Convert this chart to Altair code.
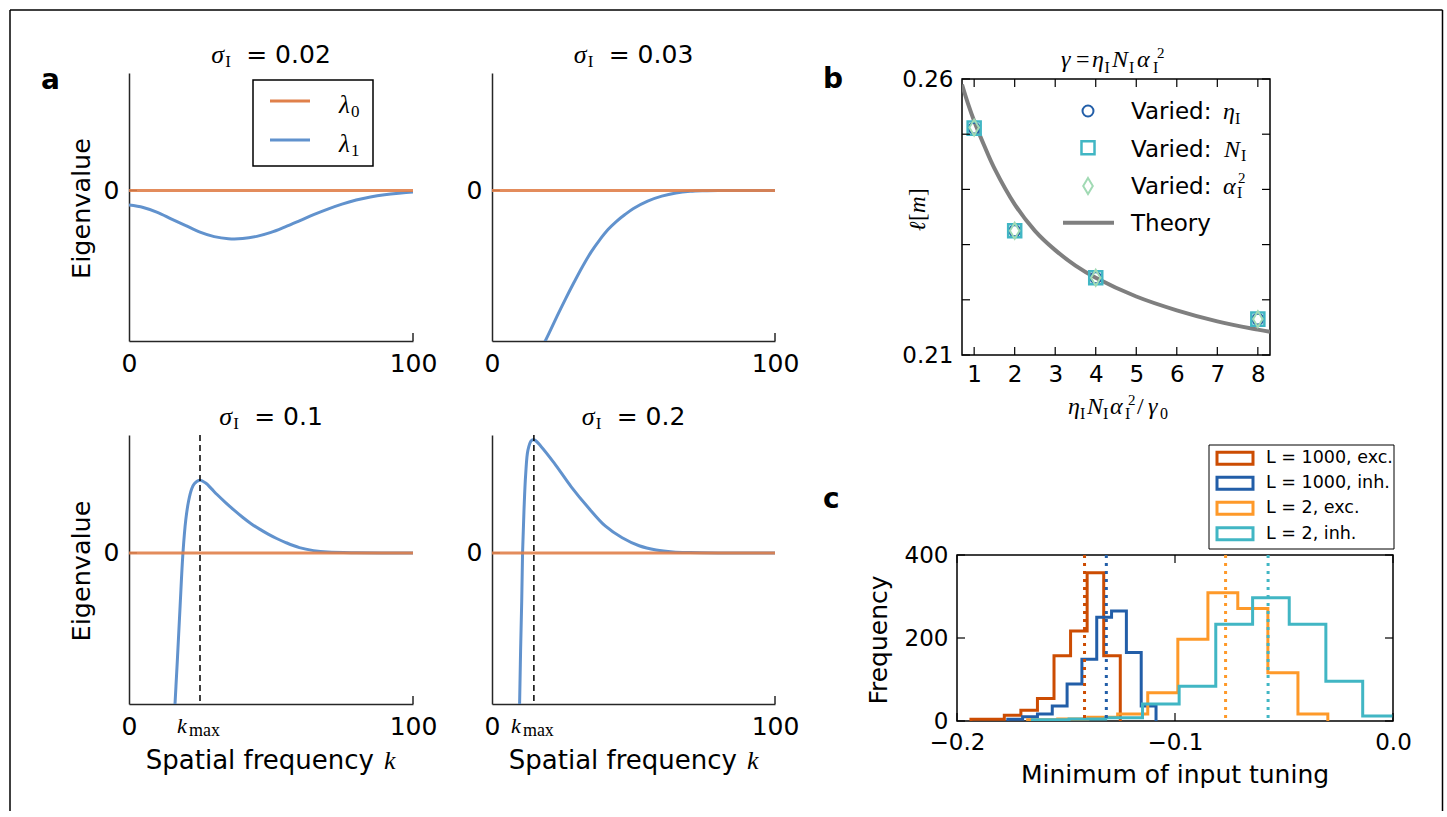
import altair as alt
import pandas as pd

SANS = "DejaVu Sans"
SERIF = "Liberation Serif"
ORANGE = "#e0804a"
BLUE = "#6192cd"
CURVE = "catmull-rom"

# ---------------- panel a data ----------------
k_s002 = [0, 5, 10, 15, 20, 25, 30, 35, 40, 45, 50, 55, 60, 65, 70, 75, 80, 85, 90, 95, 100]
lam1_s002 = [-0.097, -0.113, -0.145, -0.190, -0.234, -0.277, -0.307, -0.321, -0.320, -0.305,
             -0.279, -0.242, -0.202, -0.161, -0.124, -0.091, -0.064, -0.043, -0.028, -0.018, -0.011]
k_s003 = [14, 17, 20, 23, 26, 29, 32, 35, 38, 41, 44, 47, 50, 55, 60, 65, 70, 75, 80, 90, 100]
lam1_s003 = [-1.20, -1.07, -0.955, -0.835, -0.72, -0.61, -0.505, -0.41, -0.33, -0.26, -0.205,
             -0.16, -0.12, -0.071, -0.038, -0.017, -0.006, -0.002, -0.0005, 0.0, 0.0]
k_s01 = [15, 16, 17, 18, 19, 20, 21, 22, 23, 25, 27, 29, 31, 34, 37, 40, 43, 46, 49, 52, 55, 60, 65, 70, 80, 100]
lam1_s01 = [-1.45, -1.07, -0.72, -0.35, 0.0, 0.22, 0.345, 0.42, 0.458, 0.481, 0.462, 0.425, 0.386,
            0.333, 0.283, 0.236, 0.193, 0.157, 0.124, 0.095, 0.070, 0.035, 0.015, 0.005, 0.0005, 0.0]
k_s02 = [9, 9.75, 10.1, 10.5, 10.8, 11.3, 11.9, 12.7, 13.9, 15, 17.4, 22, 28, 34, 40, 46, 52, 58, 64, 70, 80, 100]
lam1_s02 = [-1.5, -1.0, -0.65, -0.32, 0.0, 0.28, 0.52, 0.68, 0.743, 0.747, 0.703, 0.594, 0.437,
            0.300, 0.178, 0.100, 0.047, 0.019, 0.006, 0.002, 0.0, 0.0]
lam0_k = [0, 100]
lam0_v = [0, 0]
kmax_s01 = [25.0]
kmax_s02 = [14.8]
a_xticks = [0, 100]
a_yticks = [0]

# ---------------- panel b data ----------------
b_x = [1, 2, 4, 8]
b_eta = [0.2511, 0.2325, 0.2240, 0.2165]
b_N = [0.2511, 0.2325, 0.2240, 0.2165]
b_alpha = [0.2512, 0.2325, 0.2240, 0.2165]
theory_x = [0.70, 0.85, 1.0, 1.25, 1.5, 2.0, 2.5, 3.0, 3.5, 4.0, 5.0, 6.0, 7.0, 8.0, 8.3]
theory_y = [0.2590, 0.2555, 0.2524, 0.2479, 0.2438, 0.2373, 0.2325, 0.2290, 0.2262, 0.2240,
            0.2206, 0.2181, 0.2161, 0.2146, 0.2142]
b_xticks = [1, 2, 3, 4, 5, 6, 7, 8]
b_ylabels = [0.21, 0.26]
b_yticks = [0.21, 0.22, 0.23, 0.24, 0.25, 0.26]

# ---------------- panel c data ----------------
c_series = ["L = 1000, exc.", "L = 1000, inh.", "L = 2, exc.", "L = 2, inh."]
c_colors = ["#cc4c02", "#225ea8", "#fe9929", "#41b6c4"]
c_edges_exc1000 = [-0.1936, -0.1860, -0.1783, -0.1707, -0.1631, -0.1555, -0.1479, -0.1403, -0.1327, -0.1251]
c_counts_exc1000 = [4, 4, 14, 26, 54, 157, 217, 357, 157]
c_edges_inh1000 = [-0.1767, -0.1699, -0.1631, -0.1563, -0.1495, -0.1427, -0.1359, -0.1291, -0.1223, -0.1155, -0.1087]
c_counts_inh1000 = [4, 10, 17, 36, 89, 149, 250, 265, 165, 36]
c_edges_exc2 = [-0.1676, -0.1538, -0.1400, -0.1263, -0.1125, -0.0987, -0.0849, -0.0712, -0.0574, -0.0436, -0.0299]
c_counts_exc2 = [3, 5, 9, 17, 68, 197, 309, 271, 116, 17]
c_edges_inh2 = [-0.1654, -0.1486, -0.1318, -0.1149, -0.0981, -0.0813, -0.0644, -0.0476, -0.0308, -0.0139, 0.0029]
c_counts_inh2 = [3, 5, 8, 41, 84, 233, 297, 233, 96, 12]
c_means = [-0.1415, -0.1315, -0.0768, -0.0573]
c_xticks = [-0.2, -0.1, 0.0]
c_yticks = [0, 200, 400]

DUMMY = pd.DataFrame({"d": [0]})


def T(s, x, y, size=25, font=SANS, style="normal", weight="normal", align="left",
      baseline="alphabetic", angle=0):
    kw = dict(text=s, font=font, fontSize=size, fontStyle=style, fontWeight=weight,
              align=align, baseline=baseline, color="black")
    if angle:
        kw["angle"] = angle
    return alt.Chart(DUMMY).mark_text(**kw).encode(x=alt.value(x), y=alt.value(y))


def R(x, y, x2=None, y2=None, color="black", width=1.5, dash=None):
    kw = dict(color=color, strokeWidth=width)
    if dash:
        kw["strokeDash"] = dash
    enc = dict(x=alt.value(x), y=alt.value(y))
    if x2 is not None:
        enc["x2"] = alt.value(x2)
    if y2 is not None:
        enc["y2"] = alt.value(y2)
    return alt.Chart(DUMMY).mark_rule(**kw).encode(**enc)


def spacer(w, h):
    return alt.Chart(DUMMY).mark_point(opacity=0).encode(
        x=alt.X("d:Q", axis=None), y=alt.Y("d:Q", axis=None)).properties(width=w, height=h)


def ax(values, fmt, size, pad, domain=True):
    kw = dict(values=values, format=fmt, title=None, grid=False, ticks=False, labelFont=SANS,
              labelFontSize=size, labelColor="black", labelPadding=pad, labelFlush=False,
              labelOverlap=False, domain=domain)
    if domain:
        kw["domainColor"] = "#262626"
        kw["domainWidth"] = 1.5
    return alt.Axis(**kw)


# ---------------- panel a ----------------
def a_panel(k, lam1, W, H, sval, kmax=None, ylabel_y=None, xtitle=False, first=False):
    xs = alt.Scale(domain=[0, 100], nice=False, zero=False)
    ys = alt.Scale(domain=[-1.0, 0.78], nice=False, zero=False)
    xax = ax(a_xticks, "d", 25, 10)
    yax = ax(a_yticks, "d", 25, 10)

    def X():
        return alt.X("k:Q", scale=xs, axis=xax)

    def Y():
        return alt.Y("v:Q", scale=ys, axis=yax)

    L = []
    L.append(alt.Chart(pd.DataFrame({"v": a_yticks})).mark_rule(color="black", strokeWidth=1.2)
             .encode(y=Y(), x=alt.value(0), x2=alt.value(8)))
    L.append(alt.Chart(pd.DataFrame({"k": k, "v": lam1})).mark_line(
        color=BLUE, strokeWidth=3, clip=True, interpolate=CURVE).encode(x=X(), y=Y()))
    L.append(alt.Chart(pd.DataFrame({"k": lam0_k, "v": lam0_v})).mark_line(
        color=ORANGE, strokeWidth=3, opacity=0.9).encode(x=X(), y=Y()))
    L.append(alt.Chart(pd.DataFrame({"k": [a_xticks[-1]]})).mark_rule(color="#262626", strokeWidth=1.5)
             .encode(x=X(), y=alt.value(H), y2=alt.value(H - 8)))
    if kmax is not None:
        kd = pd.DataFrame({"k": kmax})
        L.append(alt.Chart(kd).mark_rule(color="black", strokeWidth=1.5, strokeDash=[6, 4])
                 .encode(x=X(), y=alt.value(0), y2=alt.value(H)))
        L.append(alt.Chart(kd).mark_text(text="k", font=SERIF, fontStyle="italic", fontSize=22,
                                         align="left", baseline="alphabetic", dx=-23, color="black")
                 .encode(x=X(), y=alt.value(H + 29)))
        L.append(alt.Chart(kd).mark_text(text="max", font=SERIF, fontSize=18,
                                         align="left", baseline="alphabetic", dx=-11, color="black")
                 .encode(x=X(), y=alt.value(H + 32)))
    # title  sigma_I = value
    wv = (0.838 + 0.318 + sum(0.318 if ch == "." else 0.636 for ch in sval)) * 25
    x0 = W / 2 - (35 + wv) / 2
    L += [T("σ", x0, -10, 26, SERIF, "italic"), T("I", x0 + 14, -6, 17, SERIF),
          T("= " + sval, x0 + 35, -10, 25, SANS)]
    if ylabel_y is not None:
        L.append(T("Eigenvalue", -39, ylabel_y, 25.5, SANS, align="center", angle=270))
    if xtitle:
        L.append(T("Spatial frequency", 245, H + 65, 26, SANS, align="right"))
        L.append(T("k", 255, H + 65, 26, SERIF, "italic"))
    if first:
        L.append(T("a", -88, 16, 28, SANS, weight="bold"))
        L.append(alt.Chart(DUMMY).mark_rect(fill="white", stroke="black", strokeWidth=1.5).encode(
            x=alt.value(124), x2=alt.value(244), y=alt.value(7), y2=alt.value(93)))
        L.append(R(141, 28, x2=181, color=ORANGE, width=3))
        L.append(R(141, 67, x2=181, color=BLUE, width=3))
        L += [T("λ", 210, 40, 25, SERIF, "italic"), T("0", 222, 43.5, 17, SERIF),
              T("λ", 210, 79, 25, SERIF, "italic"), T("1", 222, 82.5, 17, SERIF)]
        # figure frame
        L.append(R(-119, -63, x2=1313.5, width=1.5))
        L.append(R(-119, -63, y2=738, width=1.5))
        L.append(R(1313.5, -63, y2=738, width=1.5))
    return alt.layer(*L).properties(width=W, height=H)


a1 = a_panel(k_s002, lam1_s002, 284, 268, "0.02", ylabel_y=135.5, first=True)
a2 = a_panel(k_s003, lam1_s003, 283, 268, "0.03")
a3 = a_panel(k_s01, lam1_s01, 284, 269, "0.1", kmax=kmax_s01, ylabel_y=136, xtitle=True)
a4 = a_panel(k_s02, lam1_s02, 283, 269, "0.2", kmax=kmax_s02, xtitle=True)

# ---------------- panel b ----------------
BW, BH = 308, 276
bxs = alt.Scale(domain=[0.7, 8.3], nice=False, zero=False)
bys = alt.Scale(domain=[0.21, 0.26], nice=False, zero=False)
bxax = ax(b_xticks, "d", 23, 8, domain=False)
byax = ax(b_ylabels, ".2f", 23, 9, domain=False)


def BX():
    return alt.X("x:Q", scale=bxs, axis=bxax)


def BY():
    return alt.Y("y:Q", scale=bys, axis=byax)


DIAMOND = "M0,-1L0.6,0L0,1L-0.6,0Z"
bL = []
bL.append(alt.Chart(pd.DataFrame({"x": theory_x, "y": theory_y})).mark_line(
    color="#7f7f7f", strokeWidth=4, interpolate=CURVE, clip=True).encode(x=BX(), y=BY()))
bL.append(alt.Chart(pd.DataFrame({"x": b_x, "y": b_eta})).mark_point(
    shape="circle", filled=False, color="#225ea8", strokeWidth=2, size=120, opacity=1).encode(x=BX(), y=BY()))
bL.append(alt.Chart(pd.DataFrame({"x": b_x, "y": b_N})).mark_point(
    shape="square", filled=False, color="#41b6c4", strokeWidth=2.5, size=170, opacity=1).encode(x=BX(), y=BY()))
bL.append(alt.Chart(pd.DataFrame({"x": b_x, "y": b_alpha})).mark_point(
    shape=DIAMOND, filled=False, color="#a1dab4", strokeWidth=2, size=256, opacity=1).encode(x=BX(), y=BY()))
bxt = pd.DataFrame({"x": b_xticks})
byt = pd.DataFrame({"y": b_yticks})
bL.append(alt.Chart(bxt).mark_rule(color="black", strokeWidth=1.2).encode(x=BX(), y=alt.value(BH), y2=alt.value(BH - 8)))
bL.append(alt.Chart(bxt).mark_rule(color="black", strokeWidth=1.2).encode(x=BX(), y=alt.value(0), y2=alt.value(8)))
bL.append(alt.Chart(byt).mark_rule(color="black", strokeWidth=1.2).encode(y=BY(), x=alt.value(0), x2=alt.value(8)))
bL.append(alt.Chart(byt).mark_rule(color="black", strokeWidth=1.2).encode(y=BY(), x=alt.value(BW - 8), x2=alt.value(BW)))
# panel letter & title
bL.append(T("b", -139, 9, 28, SANS, weight="bold"))
bL += [T("γ", 99, -12, 24, SERIF, "italic"), T("=", 114, -12, 24, SERIF),
       T("η", 130, -12, 24, SERIF, "italic"), T("I", 142.5, -6.5, 16, SERIF),
       T("N", 150, -12, 24, SERIF, "italic"), T("I", 167, -6.5, 16, SERIF),
       T("α", 175, -12, 24, SERIF, "italic"), T("I", 191, -6.5, 16, SERIF),
       T("2", 195, -21, 15, SERIF)]
# y title  l[m]
bL += [T("ℓ", -37, 152, 23, SERIF, "italic", angle=270), T("[", -37, 142, 23, SERIF, angle=270),
       T("m", -37, 134, 23, SERIF, "italic", angle=270), T("]", -37, 117, 23, SERIF, angle=270)]
# x title
xb = BH + 59
bL += [T("η", 106, xb, 24, SERIF, "italic"), T("I", 118, xb + 4.5, 16, SERIF),
       T("N", 125, xb, 24, SERIF, "italic"), T("I", 141, xb + 4.5, 16, SERIF),
       T("α", 148, xb, 24, SERIF, "italic"), T("I", 163, xb + 4.5, 16, SERIF),
       T("2", 166, xb - 9, 15, SERIF), T("/", 175, xb, 24, SERIF),
       T("γ", 186, xb, 24, SERIF, "italic"), T("0", 198, xb + 4.5, 16, SERIF)]
# legend
bL.append(alt.Chart(DUMMY).mark_point(shape="circle", filled=False, color="#225ea8", strokeWidth=2, size=120, opacity=1)
          .encode(x=alt.value(126), y=alt.value(32)))
bL.append(alt.Chart(DUMMY).mark_point(shape="square", filled=False, color="#41b6c4", strokeWidth=2.5, size=170, opacity=1)
          .encode(x=alt.value(126), y=alt.value(68.7)))
bL.append(alt.Chart(DUMMY).mark_point(shape=DIAMOND, filled=False, color="#a1dab4", strokeWidth=2, size=256, opacity=1)
          .encode(x=alt.value(126), y=alt.value(107)))
bL.append(R(101, 143.7, x2=152, color="#7f7f7f", width=4))
bL += [T("Varied:", 169, 40.3, 23), T("η", 261, 40.3, 24, SERIF, "italic"), T("I", 273, 44.5, 16, SERIF),
       T("Varied:", 169, 78, 23), T("N", 262, 78, 24, SERIF, "italic"), T("I", 279, 82, 16, SERIF),
       T("Varied:", 169, 114.7, 23), T("α", 261, 114.7, 24, SERIF, "italic"), T("I", 275, 119, 16, SERIF),
       T("2", 276, 103.7, 15, SERIF), T("Theory", 169, 152, 23)]
b = alt.layer(*bL).properties(width=BW, height=BH, view=alt.ViewBackground(stroke="black", strokeWidth=1.5))

# ---------------- panel c ----------------
CW, CH = 436, 166
cxs = alt.Scale(domain=[-0.2, 0.0], nice=False, zero=False)
cys = alt.Scale(domain=[0, 400], nice=False, zero=False)
cxax = ax(c_xticks, ".1f", 23, 10, domain=False)
cyax = ax(c_yticks, "d", 23, 9, domain=False)


def CX():
    return alt.X("x:Q", scale=cxs, axis=cxax)


def CY():
    return alt.Y("y:Q", scale=cys, axis=cyax)


def step_df(edges, counts):
    xs = [edges[0]] + list(edges[:-1]) + [edges[-1]]
    ys = [0] + list(counts) + [0]
    return pd.DataFrame({"x": xs, "y": ys, "i": list(range(len(xs)))})


cL = []
hists = [(c_edges_exc1000, c_counts_exc1000), (c_edges_inh1000, c_counts_inh1000),
         (c_edges_exc2, c_counts_exc2), (c_edges_inh2, c_counts_inh2)]
for (e, n), col in zip(hists, c_colors):
    cL.append(alt.Chart(step_df(e, n)).mark_line(interpolate="step-after", strokeWidth=3, color=col, clip=True)
              .encode(x=CX(), y=CY(), order=alt.Order("i:Q")))
for m, col in zip(c_means, c_colors):
    cL.append(alt.Chart(pd.DataFrame({"x": [m]})).mark_rule(color=col, strokeWidth=3, strokeDash=[3, 5])
              .encode(x=CX(), y=alt.value(0), y2=alt.value(CH)))
cxt = pd.DataFrame({"x": c_xticks})
cyt = pd.DataFrame({"y": c_yticks})
cL.append(alt.Chart(cxt).mark_rule(color="black", strokeWidth=1.2).encode(x=CX(), y=alt.value(CH), y2=alt.value(CH - 8)))
cL.append(alt.Chart(cxt).mark_rule(color="black", strokeWidth=1.2).encode(x=CX(), y=alt.value(0), y2=alt.value(8)))
cL.append(alt.Chart(cyt).mark_rule(color="black", strokeWidth=1.2).encode(y=CY(), x=alt.value(0), x2=alt.value(8)))
cL.append(alt.Chart(cyt).mark_rule(color="black", strokeWidth=1.2).encode(y=CY(), x=alt.value(CW - 8), x2=alt.value(CW)))
cL.append(T("c", -134, -47, 28, SANS, weight="bold"))
cL.append(T("Frequency", -70, 85, 25, SANS, align="center", angle=270))
cL.append(T("Minimum of input tuning", 218, CH + 62, 25, SANS, align="center"))
# legend
cL.append(alt.Chart(DUMMY).mark_rect(fill="white", stroke="black", strokeWidth=1).encode(
    x=alt.value(252), x2=alt.value(437), y=alt.value(-110), y2=alt.value(-6)))
for yc, col, lab in zip([-96.7, -71.7, -46.7, -21.3], c_colors, c_series):
    cL.append(alt.Chart(DUMMY).mark_rect(fill="white", stroke=col, strokeWidth=3).encode(
        x=alt.value(260), x2=alt.value(296), y=alt.value(yc - 6), y2=alt.value(yc + 6)))
    cL.append(T(lab, 309, yc, 17.5, SANS, baseline="middle"))
c = alt.layer(*cL).properties(width=CW, height=CH, view=alt.ViewBackground(stroke="black", strokeWidth=1.5))

# ---------------- layout ----------------
# nested concat groups count as zero-size under "flush" bounds, so spacings are absolute offsets
rowTop = alt.hconcat(a1, a2, spacing=79, bounds="flush")
rowBot = alt.hconcat(a3, a4, spacing=79, bounds="flush")
colA = alt.vconcat(rowTop, rowBot, spacing=362, bounds="flush")
rowB = alt.hconcat(spacer(5, 276), b, spacing=0, bounds="flush")
colBC = alt.vconcat(spacer(5, 6), rowB, spacer(5, 476), c, spacing=0, bounds="flush")

chart = alt.hconcat(colA, colBC, spacing=828, bounds="flush").properties(
    padding={"left": 9, "top": 9, "right": 2, "bottom": 2}
).configure_view(stroke=None)

chart.save("out.html", embed_options={"renderer": "svg", "actions": False})
